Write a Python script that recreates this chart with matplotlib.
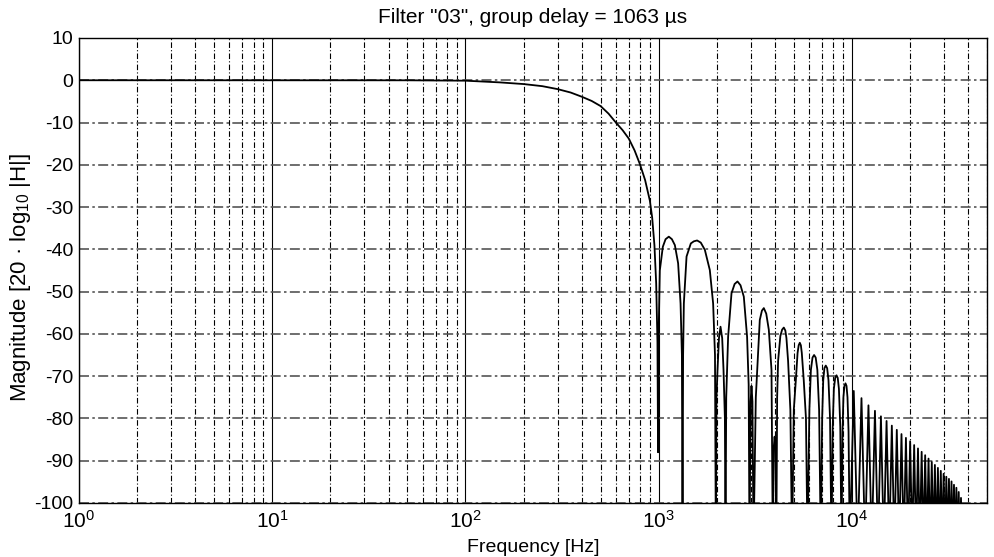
import numpy as np
import matplotlib.pyplot as plt
from matplotlib.ticker import FixedLocator, LogLocator, NullFormatter

plt.rcParams['font.family'] = ['Liberation Sans', 'DejaVu Sans']
plt.rcParams['mathtext.fontset'] = 'custom'
plt.rcParams['mathtext.rm'] = 'Liberation Sans'
plt.rcParams['mathtext.it'] = 'Liberation Sans:italic'

# Digitised magnitude response: passband and the wide side lobes (Hz, dB)
freq = [1, 20, 50, 100, 150, 200, 250, 300, 350, 400, 450, 500, 550, 600,
        650, 700, 750, 800, 850, 900, 925, 950, 970, 985, 992,
        997, 1013, 1050, 1085, 1128, 1170, 1212, 1260, 1297, 1318, 1328,
        1337, 1349, 1393, 1466, 1520, 1580, 1650, 1732, 1838, 1912, 1955, 1975,
        1990, 2015, 2050, 2088, 2130, 2164, 2200, 2216,
        2235, 2286, 2380, 2470, 2556, 2650, 2756, 2866, 2920, 2949,
        2990, 3020, 3055, 3094,
        3180, 3268, 3334, 3420, 3498, 3600, 3712, 3833, 3894,
        3935, 3978, 4020, 4061,
        4100, 4147, 4260, 4350, 4439, 4520, 4580, 4671, 4800, 4898,
        5000, 5122, 5230, 5300, 5370, 5440, 5500, 5630, 5780, 5887,
        6020, 6130, 6250, 6368, 6490, 6620, 6760, 6896,
        7010, 7100, 7200, 7318, 7440, 7560, 7700, 7834,
        7950, 8060, 8190, 8318, 8440, 8560, 8700, 8826,
        8940, 9030, 9140, 9256, 9370, 9480, 9600, 9741]
mag = [0, 0, -0.01, -0.1, -0.5, -0.9, -1.4, -2.1, -2.9, -3.9, -4.9, -6.1, -7.9, -10.0,
       -11.8, -13.8, -16.6, -19.9, -23.6, -28.5, -32.5, -39, -48, -62, -88,
       -62, -45, -39.4, -37.6, -37.0, -37.6, -39.0, -43.3, -52.8, -65, -110,
       -65, -52.8, -41.7, -38.6, -38.1, -37.9, -38.4, -40.1, -44.9, -52.8, -65, -110,
       -75, -68.5, -61, -58.3, -61, -68.5, -80, -110,
       -75, -60.7, -50.4, -48.2, -47.6, -48.5, -51.2, -60.7, -72, -110,
       -76, -72.3, -76, -110,
       -75, -64.6, -56.7, -54.5, -53.9, -55.2, -59.0, -68.5, -110,
       -87, -84.3, -87, -110,
       -75, -66.4, -60.5, -59.0, -58.5, -59.2, -61, -66.4, -78, -110,
       -78, -71, -64.5, -62.7, -62.1, -62.7, -64.5, -71, -80, -110,
       -78, -68.5, -65.6, -65.0, -65.6, -68.5, -78, -110,
       -80, -71, -68.1, -67.5, -68.1, -71, -80, -110,
       -82, -73, -70.4, -69.8, -70.4, -73, -82, -110,
       -83, -75, -72.3, -71.7, -72.3, -75, -83, -110]

# Narrow lobes above 10 kHz: peak positions/levels and the nulls after them
lobe_f = [10216, 11200, 12170, 13150, 14120, 15100, 16080, 17060, 18040, 19020,
          20000, 20980, 21960, 22940, 23920, 24900, 25880, 26860, 27840, 28820,
          29800, 30780, 31760, 32740, 33720, 34700, 35680, 36660, 37640, 38620]
lobe_db = [-73.5, -75.2, -76.9, -78.2, -79.5, -80.6, -81.7, -82.7, -83.7, -84.6,
           -85.4, -86.3, -87.1, -87.9, -88.7, -89.5, -90.3, -91.0, -91.7, -92.4,
           -93.1, -93.8, -94.3, -94.9, -95.7, -96.4, -97.4, -98.8, -100.3, -102]
null_f = [10700, 11690, 12660, 13640, 14610, 15590, 16570, 17550, 18530, 19510,
          20490, 21470, 22450, 23430, 24410, 25390, 26370, 27350, 28330, 29310,
          30290, 31270, 32250, 33230, 34210, 35190, 36170, 37150, 38130, 39200]

xs = list(freq)
ys = list(mag)
for pf, pd, nf in zip(lobe_f, lobe_db, null_f):
    xs += [pf, nf]
    ys += [pd, -110]

fig = plt.figure(figsize=(9.95, 5.57), dpi=100)
ax = fig.add_axes([0.0794, 0.097, 0.9126, 0.8348])

ax.semilogx(xs, ys, color='black', lw=1.3, zorder=3)

ax.set_xlim(1, 5e4)
ax.set_ylim(-100, 10)
ax.set_yticks(np.arange(-100, 11, 10))
ax.set_yticklabels([str(v) for v in range(-100, 11, 10)])
ax.xaxis.set_major_locator(FixedLocator([1, 10, 100, 1000, 10000]))
ax.xaxis.set_minor_locator(LogLocator(base=10, subs=np.arange(2, 10)))
ax.xaxis.set_minor_formatter(NullFormatter())

# grid: solid decades, dash-dot minor verticals, grey dash-dot horizontals
ax.grid(which='major', axis='x', color='black', lw=0.8, ls='-')
ax.grid(which='minor', axis='x', color='black', lw=0.8, ls=(0, (5, 2, 1, 2)))
ax.grid(which='major', axis='y', color='#555555', lw=1.2, ls=(0, (6, 2, 1.5, 2)))
ax.set_axisbelow(True)

ax.tick_params(which='both', direction='in', length=0)
ax.tick_params(axis='y', labelsize=14, pad=4)
ax.tick_params(axis='x', labelsize=15, pad=5)
for s in ax.spines.values():
    s.set_linewidth(1.0)

ax.set_title('Filter "03", group delay = 1063 µs', fontsize=15, pad=11)
ax.set_xlabel('Frequency [Hz]', fontsize=14, labelpad=5)
ax.set_ylabel('Magnitude [20 · log$_{10}$ |H|]', fontsize=16)
ax.yaxis.set_label_coords(-0.051, 0.486)

fig.savefig('out.png', dpi=100)
